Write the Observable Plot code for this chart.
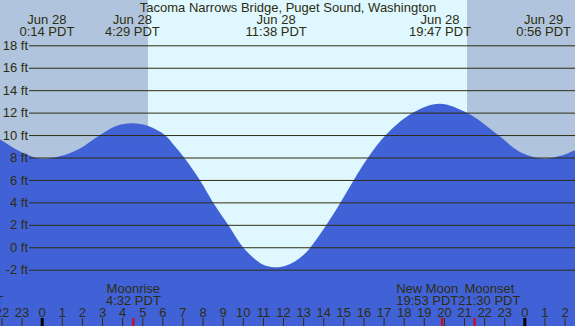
<!DOCTYPE html>
<html><head><meta charset="utf-8">
<script src="https://cdn.jsdelivr.net/npm/d3@7"></script>
<script src="https://cdn.jsdelivr.net/npm/@observablehq/plot@0.6"></script>
<style>html,body{margin:0;padding:0;background:#fff;} svg{display:block;}</style>
</head><body><div id="chart"></div>
<script>
// ---- data (hours since Jun 28 00:00 PDT) ----
const title = "Tacoma Narrows Bridge, Puget Sound, Washington";
const tideHours = [-2.1, -1.1, -0.3, 0.23, 1.0, 1.9, 2.9, 3.7, 4.48, 5.3, 6.12, 6.6, 7.08, 7.86, 8.52, 9.27, 10.01, 10.84, 11.2, 11.63, 12.1, 12.59, 13.0, 13.37, 14.16, 14.86, 15.52, 16.23, 17.11, 18.47, 19.78, 21.13, 22.7, 23.78, 24.93, 25.8, 26.6];
const tideFeet  = [9.65, 8.55, 7.98, 7.9, 8.15, 8.8, 10.0, 10.8, 11.05, 10.8, 10.0, 9.05, 8.0, 6.0, 4.0, 2.0, 0.0, -1.37, -1.66, -1.79, -1.66, -1.26, -0.72, 0.0, 2.0, 4.0, 6.0, 8.0, 10.0, 12.0, 12.8, 12.0, 10.0, 8.5, 7.9, 8.15, 8.72];

const tideEventHours = [0.233, 4.483, 11.633, 19.783, 24.933];
const tideEventDates = ["Jun 28", "Jun 28", "Jun 28", "Jun 28", "Jun 29"];
const tideEventTimes = ["0:14 PDT", "4:29 PDT", "11:38 PDT", "19:47 PDT", "0:56 PDT"];

const moonHours = [-3.467, 4.533, 19.883, 21.5];
const moonNames = ["Moonset", "Moonrise", "New Moon", "Moonset"];
const moonTimes = ["20:32 PDT", "4:32 PDT", "19:53 PDT", "21:30 PDT"];

const sunriseHour = 5.283;  // 5:17
const sunsetHour = 21.15;   // 21:09

const depthTicks = [-2, 0, 2, 4, 6, 8, 10, 12, 14, 16, 18];
const hourTicks = [-2, -1, 0, 1, 2, 3, 4, 5, 6, 7, 8, 9, 10, 11, 12, 13, 14, 15, 16, 17, 18, 19, 20, 21, 22, 23, 24, 25, 26];
const hourLabels = ["22", "23", "0", "1", "2", "3", "4", "5", "6", "7", "8", "9", "10", "11", "12", "13", "14", "15", "16", "17", "18", "19", "20", "21", "22", "23", "0", "1", "2"];
const midnightTicks = [0, 24];

// ---- layout ----
const W = 575, H = 326;
const pxPerHour = 20.11, hour0Px = 41.7;
const pxPerFt = 11.22, ft18Px = 45.3;
const xDomain = [-hour0Px / pxPerHour, (W - hour0Px) / pxPerHour];
const yDomain = [18 - (H - ft18Px) / pxPerFt, 18 + ft18Px / pxPerFt];
const yAt = px => 18 + (ft18Px - px) / pxPerFt;
const xAt = px => (px - hour0Px) / pxPerHour;

const ink = "#2d2d10";
const dayColor = "#dff7ff";
const nightColor = "#b0c4de";
const waterColor = "#4162d6";
const font = '"Liberation Sans", Arial, sans-serif';

const tide = tideHours.map((h, i) => ({h, ft: tideFeet[i]}));
const nights = [[xDomain[0], sunriseHour], [sunsetHour, xDomain[1]]];

// spread overlapping moon labels apart
const ctx = document.createElement("canvas").getContext("2d");
ctx.font = '13px "Liberation Sans", Arial, sans-serif';
const moon = moonHours.map((h, i) => ({
  h, px: hour0Px + h * pxPerHour,
  w: Math.max(ctx.measureText(moonNames[i]).width, ctx.measureText(moonTimes[i]).width),
  text: moonNames[i] + "\n" + moonTimes[i]
})).sort((a, b) => a.px - b.px);
for (let i = 1; i < moon.length; i++) {
  const gap = (moon[i - 1].w + moon[i].w) / 2 - (moon[i].px - moon[i - 1].px);
  if (gap > 0) { moon[i - 1].px -= gap / 2; moon[i].px += gap / 2; }
}

const textOpts = {fill: ink, fontFamily: font, fontSize: 13};

const chart = Plot.plot({
  width: W, height: H, margin: 0,
  x: {domain: xDomain, axis: null},
  y: {domain: yDomain, axis: null},
  style: {background: dayColor, fontFamily: font, fontSize: "13px"},
  marks: [
    Plot.rect(nights, {x1: d => d[0], x2: d => d[1], y1: yDomain[0], y2: yDomain[1], fill: nightColor}),
    Plot.areaY(tide, {x: "h", y1: yDomain[0], y2: "ft", curve: "catmull-rom", fill: waterColor}),
    Plot.ruleY(depthTicks, {y: d => d, x1: xAt(29), x2: xDomain[1], stroke: ink, strokeWidth: 1}),
    Plot.text(depthTicks, {x: xAt(27.5), y: d => d, text: d => `${d} ft`, textAnchor: "end", ...textOpts}),
    Plot.ruleX(hourTicks, {x: d => d, y1: yAt(H), y2: yAt(318), stroke: ink, strokeWidth: 1}),
    Plot.ruleX(midnightTicks, {x: d => d, y1: yAt(H), y2: yAt(318), stroke: "#000", strokeWidth: 3}),
    Plot.ruleX(moonHours, {x: d => d, y1: yAt(H), y2: yAt(318), stroke: "#e00000", strokeWidth: 2}),
    Plot.text(hourTicks, {x: d => d, y: yAt(316.7), text: (d, i) => hourLabels[i], lineAnchor: "bottom", ...textOpts}),
    Plot.text(tideEventHours, {x: d => d, y: yAt(35.8), text: (d, i) => tideEventDates[i] + "\n" + tideEventTimes[i], lineAnchor: "bottom", lineHeight: 12 / 13, ...textOpts}),
    Plot.text(moon, {x: d => xAt(d.px), y: yAt(304.3), text: "text", lineAnchor: "bottom", lineHeight: 12 / 13, ...textOpts}),
    Plot.text([title], {x: xAt(W / 2), y: yAt(11.8), text: d => d, lineAnchor: "bottom", ...textOpts})
  ]
});
document.getElementById("chart").appendChild(chart);
</script>
</body></html>
